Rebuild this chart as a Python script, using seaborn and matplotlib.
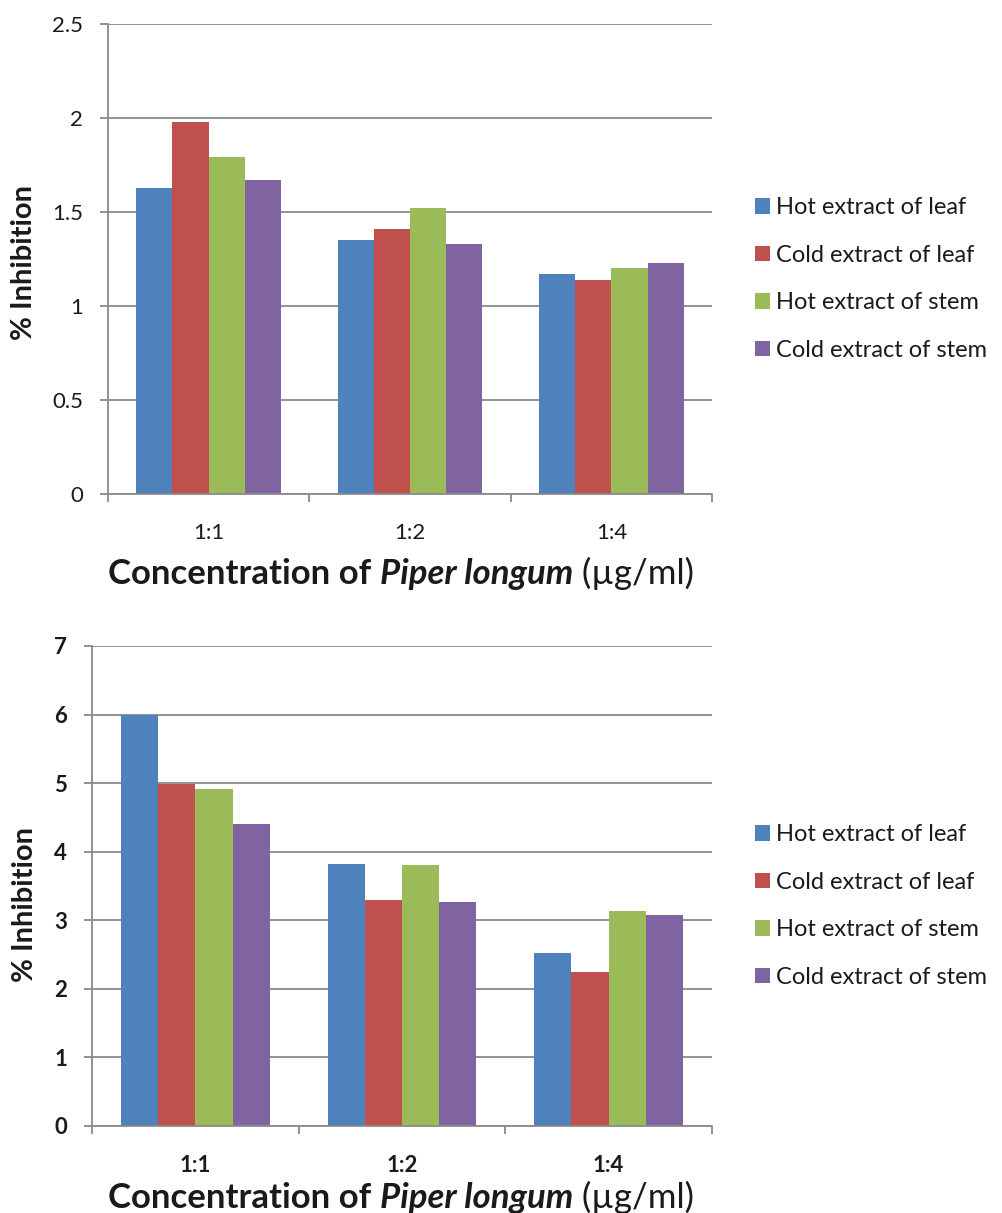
import matplotlib
matplotlib.use("Agg")
import matplotlib.pyplot as plt
import seaborn as sns
import pandas as pd

# ---- data ----
concentrations = ["1:1", "1:2", "1:4"]
series_names = ["Hot extract of leaf", "Cold extract of leaf",
                "Hot extract of stem", "Cold extract of stem"]
colors = ["#4F81BD", "#C0504D", "#9BBB59", "#8064A2"]

top_hot_leaf = [1.63, 1.35, 1.17]
top_cold_leaf = [1.98, 1.41, 1.14]
top_hot_stem = [1.79, 1.52, 1.20]
top_cold_stem = [1.67, 1.33, 1.23]

bot_hot_leaf = [6.0, 3.82, 2.53]
bot_cold_leaf = [4.99, 3.29, 2.24]
bot_hot_stem = [4.91, 3.80, 3.14]
bot_cold_stem = [4.41, 3.27, 3.08]

top_yticks = [0, 0.5, 1, 1.5, 2, 2.5]
top_yticklabels = ["0", "0.5", "1", "1.5", "2", "2.5"]
bot_yticks = [0, 1, 2, 3, 4, 5, 6, 7]
bot_yticklabels = ["0", "1", "2", "3", "4", "5", "6", "7"]


def long_df(a, b, c, d):
    rows = []
    for name, vals in zip(series_names, [a, b, c, d]):
        for conc, v in zip(concentrations, vals):
            rows.append({"conc": conc, "series": name, "val": v})
    return pd.DataFrame(rows)


df_top = long_df(top_hot_leaf, top_cold_leaf, top_hot_stem, top_cold_stem)
df_bot = long_df(bot_hot_leaf, bot_cold_leaf, bot_hot_stem, bot_cold_stem)

sns.set_theme(style="white")
plt.rcParams["font.family"] = ["Lato", "DejaVu Sans"]

fig = plt.figure(figsize=(10.03, 12.13), dpi=100)
W, H = 1003, 1213
GRID = "#8A8A8A"
TXT = "#1a1a1a"


def make_axes(left, right, top, bottom):
    return fig.add_axes([left / W, 1 - bottom / H, (right - left) / W, (bottom - top) / H])


def draw(ax, df, yticks, yticklabels, ymax, bold_ticks, legend_y, ylab_x, ylab_y, xpad):
    sns.barplot(data=df, x="conc", y="val", hue="series", order=concentrations,
                hue_order=series_names, palette=colors, saturation=1,
                width=0.72, gap=0, linewidth=0, errorbar=None, ax=ax, legend=True)
    ax.set_xlim(-0.5, 2.5)
    ax.set_ylim(0, ymax)
    ax.set_yticks(yticks)
    ax.set_yticklabels(yticklabels, fontsize=16,
                       fontweight="bold" if bold_ticks else "normal", color=TXT)
    ax.yaxis.grid(True, color=GRID, linewidth=1.3)
    ax.set_axisbelow(True)
    for s in ["top", "right"]:
        ax.spines[s].set_visible(False)
    for s in ["left", "bottom"]:
        ax.spines[s].set_color(GRID)
        ax.spines[s].set_linewidth(1.3)
    ax.tick_params(axis="y", which="major", length=6, width=1.3, color=GRID,
                   direction="out", left=True, pad=12)
    ax.set_xticks([0, 1, 2])
    ax.set_xticklabels(concentrations, fontsize=16,
                       fontweight="bold" if bold_ticks else "normal", color=TXT)
    ax.tick_params(axis="x", which="major", length=0, pad=xpad)
    ax.set_xticks([-0.5, 0.5, 1.5, 2.5], minor=True)
    ax.tick_params(axis="x", which="minor", length=6, width=1.3, color=GRID,
                   direction="out", bottom=True)
    ax.set_xlabel("")
    ax.set_ylabel("")
    fig.text(ylab_x / W, 1 - ylab_y / H, "% Inhibition", fontsize=21, fontweight="bold",
             color=TXT, rotation=90, ha="center", va="center")
    handles, labels = ax.get_legend_handles_labels()
    ax.get_legend().remove()
    fig.legend(handles, labels, loc="center left",
               bbox_to_anchor=(755 / W, 1 - legend_y / H), frameon=False,
               fontsize=17, handlelength=0.62, handleheight=0.62,
               handletextpad=0.25, labelspacing=1.12, borderpad=0, borderaxespad=0,
               labelcolor=TXT)


def xlabel_chain(ax, x_px, y_px):
    t1 = fig.text(x_px / W, 1 - y_px / H, "Concentration of ", fontsize=25,
                  fontweight="bold", color=TXT, ha="left", va="bottom")
    a2 = ax.annotate("Piper longum", xy=(1, 0), xycoords=t1, fontsize=25,
                     fontweight="bold", fontstyle="italic", color=TXT,
                     ha="left", va="bottom", annotation_clip=False)
    ax.annotate(" (µg/ml)", xy=(1, 0), xycoords=a2, fontsize=25,
                color=TXT, ha="left", va="bottom", annotation_clip=False)


ax1 = make_axes(108, 712, 24, 494)
draw(ax1, df_top, top_yticks, top_yticklabels, 2.5, False, 279, 24, 263, 21)
ax2 = make_axes(92, 712, 646, 1126)
draw(ax2, df_bot, bot_yticks, bot_yticklabels, 7, True, 906, 25, 905, 21)

xlabel_chain(ax1, 108, 590)
xlabel_chain(ax2, 108, 1214)

fig.savefig("out.png", dpi=100)
